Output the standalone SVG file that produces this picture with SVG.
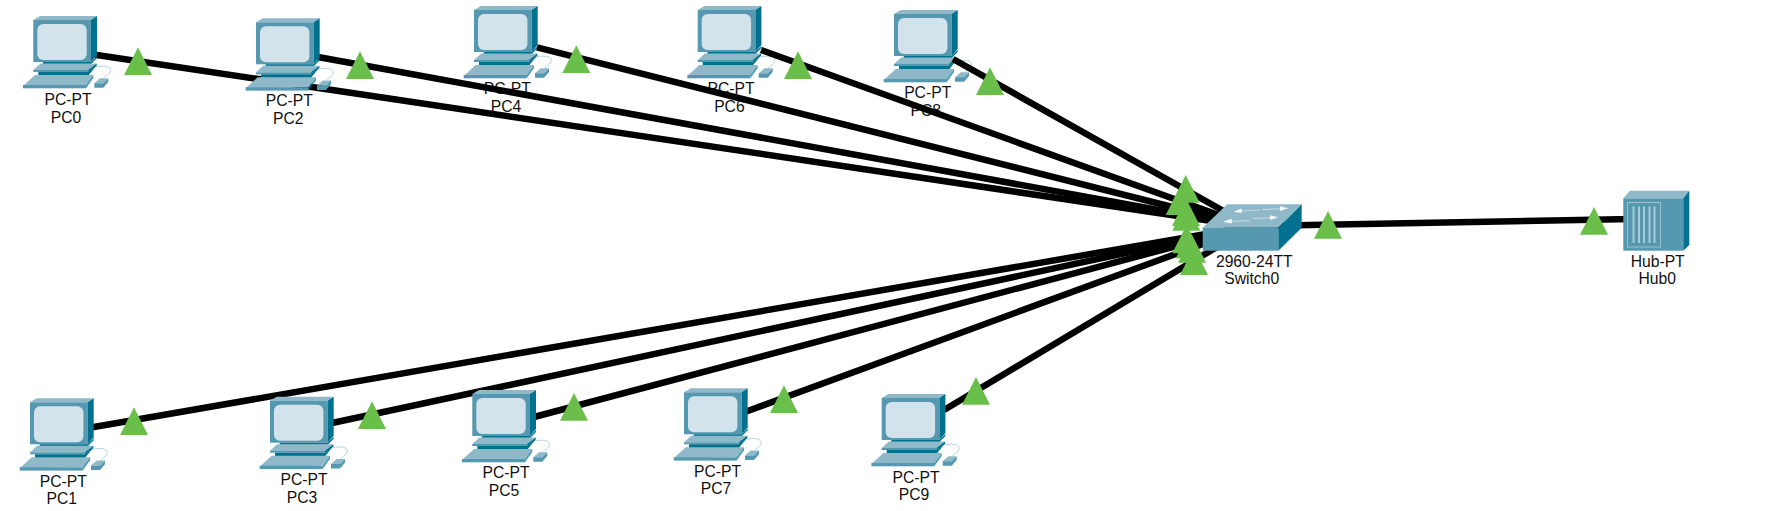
<svg xmlns="http://www.w3.org/2000/svg" width="1788" height="511" viewBox="0 0 1788 511">
<style>
text{font-family:"Liberation Sans",Arial,sans-serif;font-size:15.7px;fill:#111;text-anchor:middle}
.lnk{stroke:#000;stroke-width:6.5;fill:none}
.lt{fill:#6abf4b}
.top{fill:#8fb8c8}.fr{fill:#5598b0}.sd{fill:#00718f}.scr{fill:#d3e3eb}
</style>
<defs>
<polygon id="tri" points="0,-27.7 14,0 -14,0"/>
<g id="pc">
<polygon class="top" points="10.3,4 17,0 74,0 68,4"/>
<rect class="fr" x="10.3" y="4" width="57.7" height="42"/>
<polygon class="sd" points="68,4 74,0 74,39 68,46"/>
<rect class="scr" x="14.3" y="8" width="49.4" height="36" rx="6"/>
<polygon class="sd" points="20,46 68,46 74,40 74,42 68,48 20,48"/>
<polygon class="top" points="10.3,54 17.5,47.5 73.7,47.5 65,54"/>
<rect class="fr" x="10.3" y="54" width="54.7" height="2"/>
<polygon class="sd" points="65,54 73.7,47.5 73.7,50 65,56"/>
<polygon class="sd" points="15.3,56 65,56 73,50 65,60 15.3,60"/>
<polygon class="top" points="0,70 12,59 70.3,59 63,69"/>
<rect class="fr" x="0" y="69" width="63" height="3.3"/>
<polygon class="sd" points="63,69 70.3,59 70.3,62 63,72.3" opacity=".7"/>
<polygon class="top" points="71.3,67.3 77,62.3 85.3,62.3 80.3,67.3"/>
<polygon class="fr" points="71.3,67.3 80.3,67.3 85.3,62.3 85.3,66 80.3,71.7 71.3,71.7"/>
<path d="M73,51 C82,49 90,51 87,56 C85,60 82,60 81,62" fill="none" stroke="#b5d3df" stroke-width="1"/>
</g>
</defs>

<g id="PC4"><use href="#pc" x="463.7" y="6"/><text x="507.3" y="94">PC-PT</text><text x="506" y="111.7">PC4</text></g>
<g id="PC6"><use href="#pc" x="687.4" y="6"/><text x="731" y="94">PC-PT</text><text x="729.4" y="111.7">PC6</text></g>
<g id="PC8"><use href="#pc" x="883.7" y="10"/><text x="927.7" y="98">PC-PT</text><text x="925.7" y="115.7">PC8</text></g>

<g id="connectors">
<line class="lnk" x1="95" y1="54.7" x2="1252" y2="227"/>
<line class="lnk" x1="318" y1="57" x2="1252" y2="227"/>
<line class="lnk" x1="537" y1="47.3" x2="1252" y2="227"/>
<line class="lnk" x1="761" y1="50" x2="1252" y2="227"/>
<line class="lnk" x1="953" y1="59" x2="1252" y2="227"/>
<line class="lnk" x1="91" y1="427.5" x2="1252" y2="226"/>
<line class="lnk" x1="332" y1="423" x2="1252" y2="226"/>
<line class="lnk" x1="534" y1="417" x2="1252" y2="226"/>
<line class="lnk" x1="745" y1="412" x2="1252" y2="226"/>
<line class="lnk" x1="944" y1="410" x2="1252" y2="226"/>
<line class="lnk" x1="1252" y1="226" x2="1660" y2="218.5"/>
<g class="lt">
<use href="#tri" x="138" y="75"/><use href="#tri" x="360" y="79"/><use href="#tri" x="576.3" y="73"/><use href="#tri" x="798" y="79"/><use href="#tri" x="990" y="95"/>
<use href="#tri" x="134" y="435"/><use href="#tri" x="372" y="429"/><use href="#tri" x="574" y="420.7"/><use href="#tri" x="784" y="413"/><use href="#tri" x="976" y="404.7"/>
<use href="#tri" x="1185.7" y="202.7"/><use href="#tri" x="1179.8" y="215"/><use href="#tri" x="1186" y="226"/><use href="#tri" x="1186.3" y="230.7"/><use href="#tri" x="1186.3" y="253.3"/>
<use href="#tri" x="1189.7" y="258.3"/><use href="#tri" x="1192" y="262.7"/><use href="#tri" x="1194" y="275"/>
<use href="#tri" x="1328" y="238.7"/><use href="#tri" x="1594" y="234.7"/>
</g>
</g>

<g id="PC0"><use href="#pc" x="23" y="16"/><text x="68" y="105">PC-PT</text><text x="66" y="122.7">PC0</text></g>
<g id="PC2"><use href="#pc" x="245.7" y="18.3"/><text x="289.3" y="106">PC-PT</text><text x="288.3" y="124">PC2</text></g>
<g id="PC1"><use href="#pc" x="19.7" y="398.3"/><text x="63.3" y="486.7">PC-PT</text><text x="61.7" y="504">PC1</text></g>
<g id="PC3"><use href="#pc" x="259.7" y="396.7"/><text x="304" y="485">PC-PT</text><text x="302" y="502.5">PC3</text></g>
<g id="PC5"><use href="#pc" x="462" y="390"/><text x="506" y="478">PC-PT</text><text x="504" y="496">PC5</text></g>
<g id="PC7"><use href="#pc" x="673.7" y="388.3"/><text x="717.5" y="476.5">PC-PT</text><text x="716" y="494">PC7</text></g>
<g id="PC9"><use href="#pc" x="871.4" y="394"/><text x="916" y="482.5">PC-PT</text><text x="914" y="500">PC9</text></g>

<g id="Switch0">
<polygon class="top" points="1202.7,227.7 1227.3,204.3 1301.7,204.3 1278.3,227.7"/>
<rect class="fr" x="1202.7" y="227.7" width="75.6" height="23"/>
<polygon class="sd" points="1278.3,227.7 1301.7,204.3 1301.7,227.7 1278.3,250.7"/>
<g stroke="#c8dde5" stroke-width="1"><line x1="1240" y1="211" x2="1260" y2="210"/><line x1="1262" y1="209.5" x2="1282" y2="208.7"/><line x1="1230" y1="221.3" x2="1250" y2="220.7"/><line x1="1253" y1="218.5" x2="1272" y2="217.7"/></g>
<g fill="#f2f7f9">
<polygon points="1233.3,211.7 1241.7,208.5 1241.7,213"/>
<polygon points="1288.3,208.3 1280,206.3 1280,211"/>
<polygon points="1222.7,221.7 1231.7,218.8 1231.7,223.5"/>
<polygon points="1278.3,217.3 1270,215.3 1270,220"/>
</g>
<text x="1254.3" y="266.7">2960-24TT</text><text x="1251.7" y="284.3">Switch0</text>
</g>

<g id="Hub0">
<polygon class="top" points="1623.3,198.3 1630,190.7 1689.3,190.7 1683.3,198.3"/>
<rect class="fr" x="1623.3" y="198.3" width="60" height="52.4"/>
<polygon class="sd" points="1683.3,198.3 1689.3,190.7 1689.3,245 1683.3,250.7"/>
<rect x="1627.5" y="202.5" width="33" height="44.5" fill="none" stroke="#9cc3d1" stroke-width="1"/>
<g fill="#a8cbd8"><rect x="1632.5" y="206.5" width="2" height="36.5"/><rect x="1638" y="206.5" width="2" height="36.5"/><rect x="1643" y="206.5" width="2" height="36.5"/><rect x="1648.5" y="206.5" width="2" height="36.5"/><rect x="1653.5" y="206.5" width="2" height="36.5"/></g>
<text x="1657.7" y="266.7">Hub-PT</text><text x="1657.3" y="284.3">Hub0</text>
</g>
</svg>
